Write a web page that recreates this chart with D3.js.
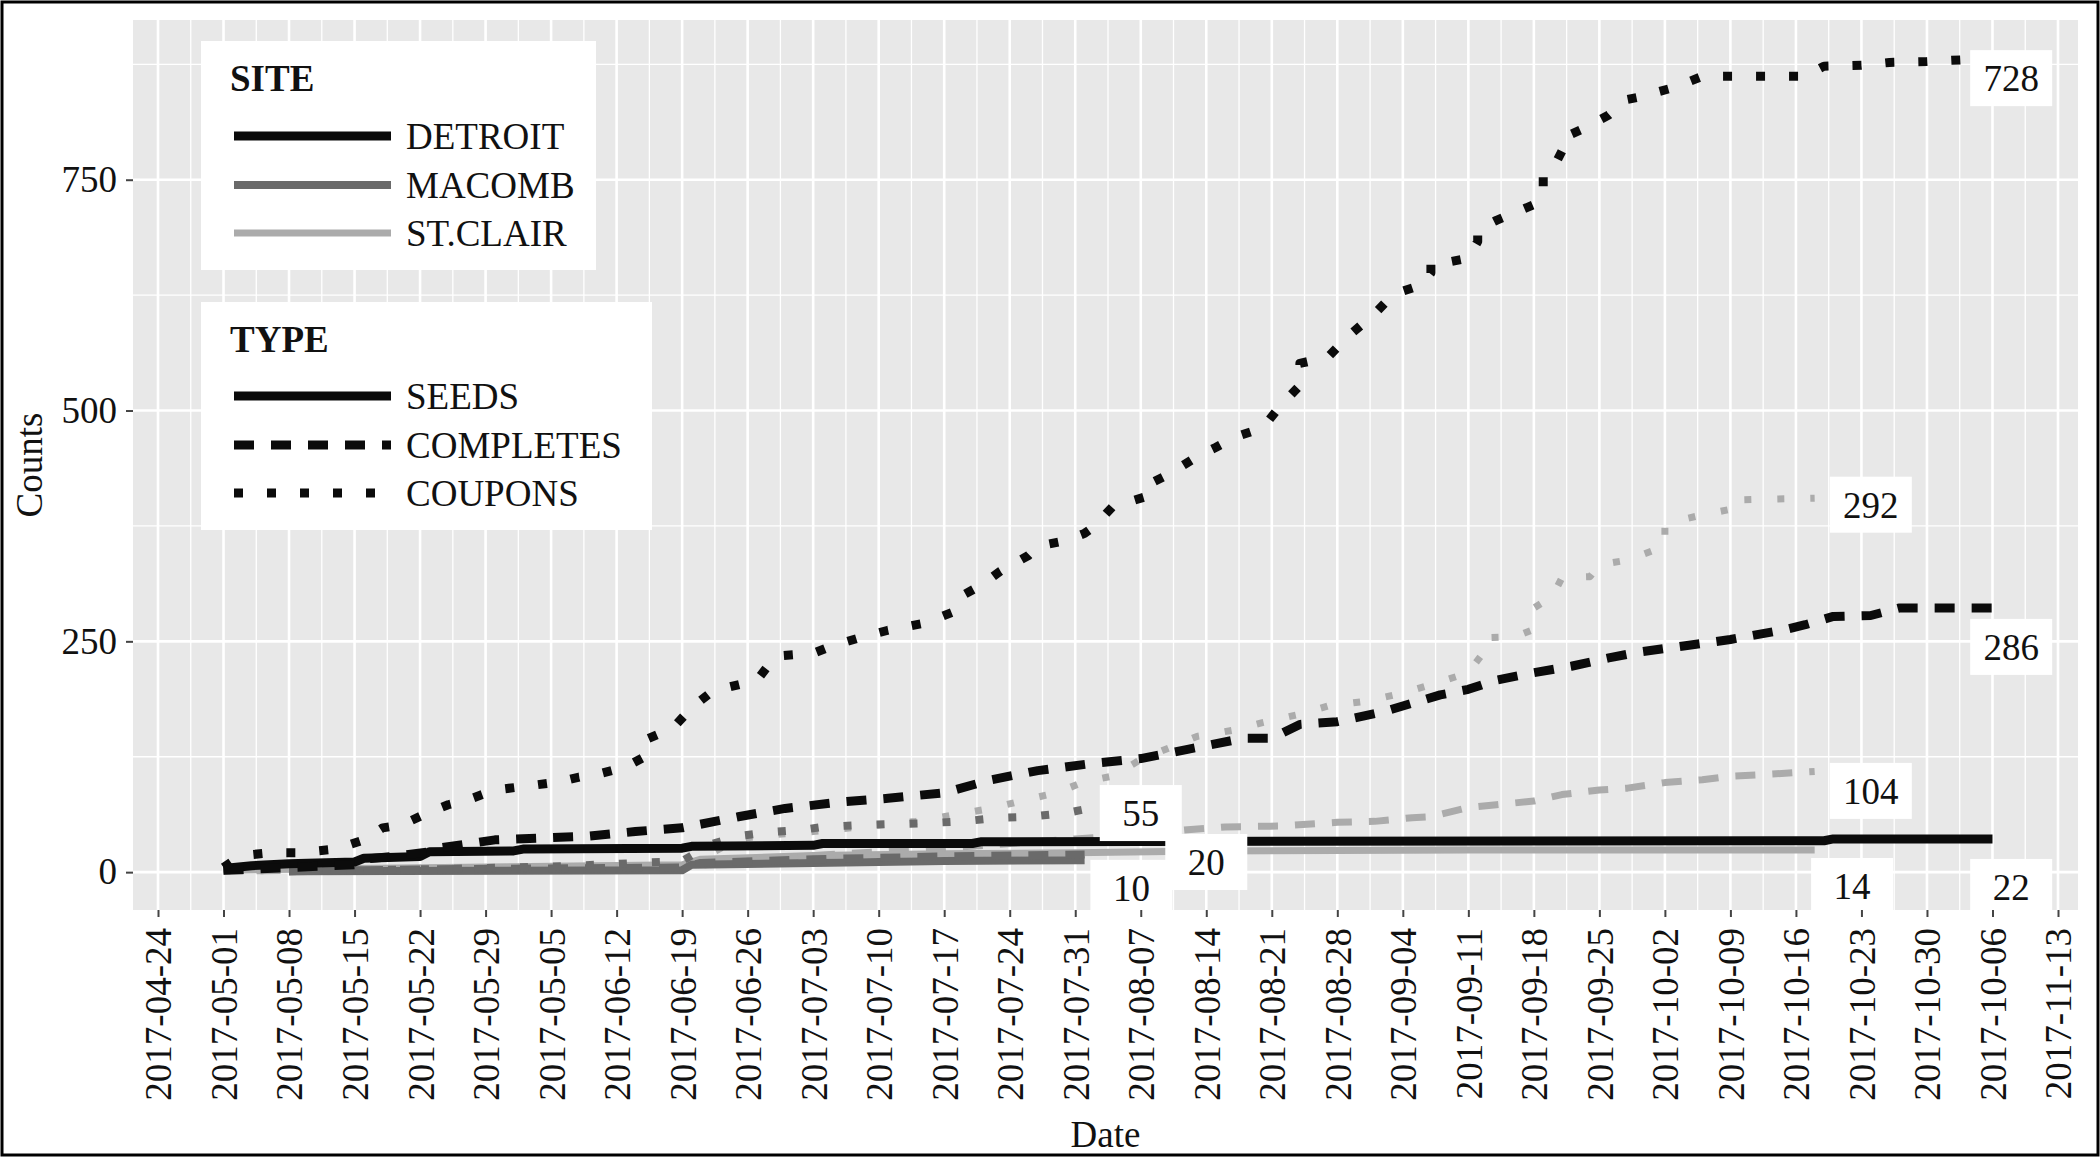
<!DOCTYPE html>
<html>
<head>
<meta charset="utf-8">
<script src="https://cdn.jsdelivr.net/npm/d3@7"></script>
<style>
  body { margin: 0; background: #fff; }
  svg text { font-family: "Liberation Serif", "Times New Roman", serif; fill: #111; }
</style>
</head>
<body>
<div id="chart"></div>
<script>
const W = 2100, H = 1157;
const panel = { left: 133, right: 2078, top: 20, bottom: 910 };

// ---- data (dates are 2017, counts are cumulative) ----
const sites = ["DETROIT", "MACOMB", "ST.CLAIR"];
const types = ["SEEDS", "COMPLETES", "COUPONS"];

// labels as printed on the original axis (two of them are typos in the source)
const xTickLabels = ["2017-04-24","2017-05-01","2017-05-08","2017-05-15","2017-05-22","2017-05-29",
  "2017-05-05","2017-06-12","2017-06-19","2017-06-26","2017-07-03","2017-07-10","2017-07-17",
  "2017-07-24","2017-07-31","2017-08-07","2017-08-14","2017-08-21","2017-08-28","2017-09-04",
  "2017-09-11","2017-09-18","2017-09-25","2017-10-02","2017-10-09","2017-10-16","2017-10-23",
  "2017-10-30","2017-10-06","2017-11-13"];
const yTicks = [0, 250, 500, 750];
const yMinorTicks = [125, 375, 625, 875];

const detroitSeeds = [["05-01",4],["05-04",7],["05-08",9],["05-15",11],["05-16",15],["05-22",17],
  ["05-23",22],["06-01",23],["06-02",25],["06-19",26],["06-20",28],["07-03",29],["07-04",31],
  ["07-20",31],["07-21",33],["10-19",34],["10-20",36],["11-06",36]];
const detroitCompletes = [["05-01",2],["05-08",5],["05-15",8],["05-16",14],["05-19",17],["05-23",22],
  ["05-24",26],["05-30",35],["06-04",37],["06-09",39],["06-14",44],["06-19",48],["06-25",60],
  ["06-30",69],["07-06",76],["07-11",80],["07-17",86],["07-22",100],["07-27",110],["08-02",118],
  ["08-07",123],["08-12",133],["08-18",145],["08-21",145],["08-24",160],["08-28",163],["09-02",174],
  ["09-08",192],["09-11",198],["09-14",208],["09-18",216],["09-22",223],["09-26",232],["09-29",238],
  ["10-04",245],["10-09",252],["10-15",263],["10-17",268],["10-20",277],["10-24",278],["10-27",286],
  ["11-06",286]];
const detroitCoupons = [["05-01",5],["05-02",12],["05-04",19],["05-06",21],["05-09",21],["05-13",25],
  ["05-16",35],["05-18",48],["05-20",51],["05-23",65],["05-25",73],["05-27",78],["05-30",89],
  ["06-03",94],["06-06",98],["06-08",103],["06-10",106],["06-13",114],["06-15",125],["06-15",143],
  ["06-18",156],["06-20",178],["06-22",194],["06-23",198],["06-27",208],["06-29",234],["07-03",237],
  ["07-05",245],["07-08",254],["07-11",262],["07-15",270],["07-18",282],["07-19",300],["07-21",311],
  ["07-23",326],["07-26",343],["07-27",353],["07-30",359],["08-01",367],["08-02",374],["08-04",396],
  ["08-08",408],["08-08",421],["08-10",431],["08-13",450],["08-15",460],["08-17",471],["08-20",481],
  ["08-22",506],["08-24",527],["08-24",551],["08-27",558],["08-29",579],["09-01",605],["09-03",626],
  ["09-06",636],["09-07",649],["09-07",661],["09-09",661],["09-11",665],["09-12",683],["09-12",696],
  ["09-14",706],["09-18",723],["09-19",732],["09-19",754],["09-20",761],["09-21",781],["09-21",795],
  ["09-23",804],["09-26",820],["09-28",837],["09-29",839],["10-03",850],["10-06",862],["10-17",862],
  ["10-19",873],["10-23",874],["10-26",877],["10-30",878],["11-03",880]];

const macombSeeds = [["05-08",1],["06-19",2],["06-20",8],["07-03",10],["07-17",12],["08-01",13]];
const macombCompletes = [["05-08",1],["05-22",3],["06-19",5],["06-21",10],["07-03",14],["07-17",17],
  ["08-01",19]];
const macombCoupons = [["05-08",1],["05-22",3],["06-05",6],["06-19",12],["06-22",30],["06-25",39],
  ["06-28",43],["07-02",46],["07-04",49],["07-08",51],["07-15",53],["07-19",55],["07-23",59],
  ["07-26",60],["07-30",64],["08-01",68]];

const stclairSeeds = [["05-01",2],["05-15",4],["06-19",8],["06-21",14],["07-03",18],["07-17",20],
  ["07-31",21],["08-14",23],["09-11",24],["10-18",24]];
const stclairCompletes = [["05-01",1],["05-15",3],["06-19",6],["06-26",12],["07-03",18],["07-17",26],
  ["07-31",36],["08-07",41],["08-12",46],["08-16",49],["08-22",50],["08-28",54],["09-01",55],
  ["09-05",59],["09-07",60],["09-11",70],["09-14",73],["09-18",77],["09-21",84],["09-25",89],
  ["09-28",91],["10-02",97],["10-06",100],["10-09",104],["10-13",106],["10-18",109]];
const stclairCoupons = [["05-01",1],["05-15",3],["06-12",5],["06-19",8],["06-22",20],["06-25",36],
  ["06-28",40],["07-03",44],["07-09",50],["07-14",55],["07-18",62],["07-22",69],["07-26",79],
  ["07-29",86],["08-01",98],["08-04",104],["08-07",122],["08-13",147],["08-17",154],["08-20",162],
  ["08-24",171],["08-27",180],["08-31",185],["09-04",194],["09-07",203],["09-11",216],["09-13",243],
  ["09-13",254],["09-16",255],["09-18",263],["09-18",286],["09-20",299],["09-21",319],["09-24",320],
  ["09-25",333],["09-28",338],["10-02",353],["10-02",373],["10-03",380],["10-06",387],["10-09",393],
  ["10-09",403],["10-13",404],["10-18",405]];

// end-of-line labels: text, anchor date, anchor count
const endLabels = [["728","11-08",860],["292","10-24",398],["286","11-08",244],["104","10-24",88],
  ["55","08-07",64],["20","08-14",11],["10","08-06",-17],["14","10-22",-15],["22","11-08",-16]];

// ---- scales ----
const parse = s => d3.utcParse("%Y-%m-%d")("2017-" + s);
const firstTick = parse("04-24");
const tickDates = xTickLabels.map((_, i) => d3.utcDay.offset(firstTick, 7 * i));

const x = d3.scaleUtc().domain([firstTick, tickDates[tickDates.length - 1]]).range([158, 2058]);
const y = d3.scaleLinear().domain([-41, 923]).range([panel.bottom, panel.top]);

const siteColor = d3.scaleOrdinal().domain(sites).range(["#0b0b0b", "#6a6a6a", "#ababab"]);
const siteWidth = d3.scaleOrdinal().domain(sites).range([9, 8, 7]);
const dashFor = (type, w) => type === "SEEDS" ? null : type === "COMPLETES" ? "20 17" : `${w} ${33 - w}`;

const series = [
  ["ST.CLAIR", "SEEDS", stclairSeeds], ["ST.CLAIR", "COMPLETES", stclairCompletes], ["ST.CLAIR", "COUPONS", stclairCoupons],
  ["MACOMB", "SEEDS", macombSeeds], ["MACOMB", "COMPLETES", macombCompletes], ["MACOMB", "COUPONS", macombCoupons],
  ["DETROIT", "SEEDS", detroitSeeds], ["DETROIT", "COMPLETES", detroitCompletes], ["DETROIT", "COUPONS", detroitCoupons]
].map(([site, type, pts]) => ({ site, type, values: pts.map(([d, v]) => ({ date: parse(d), value: v })) }));

// ---- canvas ----
const svg = d3.select("#chart").append("svg").attr("width", W).attr("height", H);

svg.append("rect").attr("x", 2).attr("y", 2).attr("width", W - 4).attr("height", H - 4)
  .attr("fill", "#fff").attr("stroke", "#000").attr("stroke-width", 3);

svg.append("clipPath").attr("id", "panel-clip").append("rect")
  .attr("x", panel.left).attr("y", panel.top)
  .attr("width", panel.right - panel.left).attr("height", panel.bottom - panel.top);

svg.append("rect").attr("x", panel.left).attr("y", panel.top)
  .attr("width", panel.right - panel.left).attr("height", panel.bottom - panel.top)
  .attr("fill", "#e8e8e8");

const grid = svg.append("g").attr("clip-path", "url(#panel-clip)");
const minorDates = tickDates.slice(1).map(d => d3.utcHour.offset(d, -84));

grid.selectAll(".vminor").data(minorDates).enter().append("line")
  .attr("x1", d => x(d)).attr("x2", d => x(d)).attr("y1", panel.top).attr("y2", panel.bottom)
  .attr("stroke", "#fff").attr("stroke-width", 1.3);
grid.selectAll(".hminor").data(yMinorTicks).enter().append("line")
  .attr("x1", panel.left).attr("x2", panel.right).attr("y1", d => y(d)).attr("y2", d => y(d))
  .attr("stroke", "#fff").attr("stroke-width", 1.3);
grid.selectAll(".vmajor").data(tickDates).enter().append("line")
  .attr("x1", d => x(d)).attr("x2", d => x(d)).attr("y1", panel.top).attr("y2", panel.bottom)
  .attr("stroke", "#fff").attr("stroke-width", 2.6);
grid.selectAll(".hmajor").data(yTicks).enter().append("line")
  .attr("x1", panel.left).attr("x2", panel.right).attr("y1", d => y(d)).attr("y2", d => y(d))
  .attr("stroke", "#fff").attr("stroke-width", 2.6);

// ---- lines ----
const line = d3.line().x(d => x(d.date)).y(d => y(d.value));
const plot = svg.append("g").attr("clip-path", "url(#panel-clip)");

plot.selectAll(".series").data(series).enter().append("path")
  .attr("class", "series")
  .attr("d", d => line(d.values))
  .attr("fill", "none")
  .attr("stroke", d => siteColor(d.site))
  .attr("stroke-width", d => siteWidth(d.site))
  .attr("stroke-dasharray", d => dashFor(d.type, siteWidth(d.site)))
  .attr("stroke-linecap", "butt")
  .attr("stroke-linejoin", "round");

// ---- end labels ----
const labels = plot.selectAll(".endlabel").data(endLabels).enter().append("g")
  .attr("transform", d => `translate(${x(parse(d[1]))},${y(d[2])})`);
labels.append("rect").attr("x", -41).attr("y", -28).attr("width", 82).attr("height", 56)
  .attr("fill", "#fff");
labels.append("text").attr("text-anchor", "middle").attr("dy", "0.35em")
  .style("font-size", "37px").text(d => d[0]);

// ---- axes ----
const xAxis = svg.append("g").attr("transform", `translate(0,${panel.bottom})`)
  .call(d3.axisBottom(x).tickValues(tickDates).tickSize(7).tickFormat((d, i) => xTickLabels[i]));
xAxis.select(".domain").remove();
xAxis.selectAll(".tick line").attr("stroke", "#444").attr("stroke-width", 2);
xAxis.selectAll(".tick text")
  .attr("transform", "rotate(-90)").attr("x", -18).attr("y", 0).attr("dy", "0.35em")
  .attr("text-anchor", "end").style("font-size", "37px").style("font-family", null);

const yAxis = svg.append("g").attr("transform", `translate(${panel.left},0)`)
  .call(d3.axisLeft(y).tickValues(yTicks).tickSize(7).tickPadding(9));
yAxis.select(".domain").remove();
yAxis.selectAll(".tick line").attr("stroke", "#444").attr("stroke-width", 2);
yAxis.selectAll(".tick text").style("font-size", "37px");
yAxis.attr("font-family", null); xAxis.attr("font-family", null);

svg.append("text").attr("x", (panel.left + panel.right) / 2).attr("y", 1147)
  .attr("text-anchor", "middle").style("font-size", "37px").text("Date");
svg.append("text").attr("transform", `translate(42,${(panel.top + panel.bottom) / 2}) rotate(-90)`)
  .attr("text-anchor", "middle").style("font-size", "37px").text("Counts");

// ---- legends ----
const legends = [
  { title: "SITE", x: 201, y: 41, w: 395, h: 229, titleY: 91, rows: [136, 185, 233],
    entries: sites.map(s => ({ label: s, color: siteColor(s), width: siteWidth(s), dash: null })) },
  { title: "TYPE", x: 201, y: 302, w: 451, h: 228, titleY: 352, rows: [396, 445, 493],
    entries: types.map(t => ({ label: t, color: "#0b0b0b", width: 9, dash: dashFor(t, 9) })) }
];

legends.forEach(lg => {
  const g = svg.append("g");
  g.append("rect").attr("x", lg.x).attr("y", lg.y).attr("width", lg.w).attr("height", lg.h).attr("fill", "#fff");
  g.append("text").attr("x", 230).attr("y", lg.titleY).style("font-size", "37px")
    .style("font-weight", "bold").text(lg.title);
  lg.entries.forEach((e, i) => {
    g.append("line").attr("x1", 234).attr("x2", 391).attr("y1", lg.rows[i]).attr("y2", lg.rows[i])
      .attr("stroke", e.color).attr("stroke-width", e.width).attr("stroke-dasharray", e.dash);
    g.append("text").attr("x", 406).attr("y", lg.rows[i]).attr("dy", "0.35em")
      .style("font-size", "37px").text(e.label);
  });
});
</script>
</body>
</html>
